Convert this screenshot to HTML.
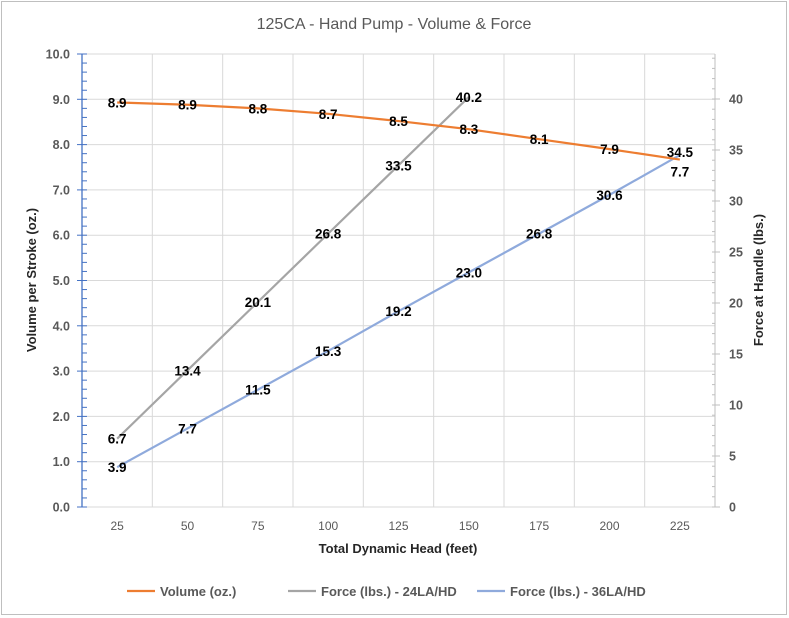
<!DOCTYPE html><html><head><meta charset="utf-8"><style>body{margin:0;background:#fff}svg{display:block;font-family:"Liberation Sans",sans-serif}</style></head><body>
<svg id="s" width="789" height="618" xmlns="http://www.w3.org/2000/svg"></svg>
<script>
const L=82,R=715,T=54,B=507,step=(R-L)/9;
const cx=i=>L+step*(i+0.5), yl=v=>B-v*45.3, yr=v=>B-v*10.2;
let h='<rect x="1.5" y="1.5" width="785" height="613" fill="#fff" stroke="#bfbfbf"/>';
h+='<text x="394" y="29" text-anchor="middle" font-size="16" fill="#595959">125CA - Hand Pump - Volume &amp; Force</text>';
for(let v=0;v<=10;v++){const y=yl(v);h+=`<line x1="${L}" x2="${R}" y1="${y}" y2="${y}" stroke="#d9d9d9"/>`;h+=`<text x="70" y="${y+4.5}" text-anchor="end" font-size="12.5" font-weight="bold" fill="#595959">${v.toFixed(1)}</text>`;}
for(let i=1;i<9;i++){const x=L+step*i;h+=`<line x1="${x}" x2="${x}" y1="${T}" y2="${B}" stroke="#d9d9d9"/>`;}
h+=`<line x1="${L}" x2="${L}" y1="${T}" y2="${B}" stroke="#4472c4" stroke-width="1.3"/>`;
for(let v=0;v<=50;v++){const y=yl(v/5);h+=`<line x1="${v%5?L:L-5}" x2="${L+5}" y1="${y}" y2="${y}" stroke="#4472c4"/>`;}
h+=`<line x1="${R}" x2="${R}" y1="${T}" y2="${B}" stroke="#bfbfbf"/>`;
for(let v=0;v<=44;v++){const y=yr(v);h+=`<line x1="${v%5?R-3:R-3}" x2="${v%5?R:R+5}" y1="${y}" y2="${y}" stroke="#bfbfbf"/>`;if(v%5==0)h+=`<text x="729" y="${y+4.5}" font-size="12.5" font-weight="bold" fill="#595959">${v}</text>`;}
for(let i=0;i<9;i++)h+=`<text x="${cx(i)}" y="530" text-anchor="middle" font-size="12" fill="#595959">${25*(i+1)}</text>`;
h+='<text x="398" y="553" text-anchor="middle" font-size="13" font-weight="bold" fill="#262626">Total Dynamic Head (feet)</text>';
h+='<text transform="translate(36,280) rotate(-90)" text-anchor="middle" font-size="13" font-weight="bold" fill="#262626">Volume per Stroke (oz.)</text>';
h+='<text transform="translate(763,280) rotate(-90)" text-anchor="middle" font-size="13" font-weight="bold" fill="#262626">Force at Handle (lbs.)</text>';
const vol=[8.93,8.88,8.8,8.68,8.52,8.34,8.12,7.9,7.67],volL=['8.9','8.9','8.8','8.7','8.5','8.3','8.1','7.9','7.7'];
const g=[6.7,13.4,20.1,26.8,33.5,40.2],b=[3.9,7.7,11.5,15.3,19.2,23.0,26.8,30.6,34.5];
const pl=(a,f,c)=>`<polyline fill="none" stroke="${c}" stroke-width="2.2" points="${a.map((v,i)=>cx(i)+','+f(v)).join(' ')}"/>`;
h+=pl(g,yr,'#a5a5a5')+pl(b,yr,'#8faadc')+pl(vol,yl,'#ed7d31');
const lab=(x,y,t)=>`<text x="${x}" y="${y+5}" text-anchor="middle" font-size="13.5" font-weight="bold" fill="#000">${t}</text>`;
vol.forEach((v,i)=>{let y=yl(v);if(i==8)y+=12;h+=lab(cx(i),y,volL[i]);});
g.forEach((v,i)=>h+=lab(cx(i),yr(v),v.toFixed(1)));
b.forEach((v,i)=>{let y=yr(v);if(i==8)y-=3;h+=lab(cx(i),y,v.toFixed(1));});
[[127,'#ed7d31','Volume (oz.)'],[288,'#a5a5a5','Force (lbs.) - 24LA/HD'],[477,'#8faadc','Force (lbs.) - 36LA/HD']].forEach(([x,c,t])=>{h+=`<line x1="${x}" x2="${x+28}" y1="591" y2="591" stroke="${c}" stroke-width="2.2"/><text x="${x+33}" y="596" font-size="13" font-weight="bold" fill="#595959">${t}</text>`;});
document.getElementById('s').innerHTML=h;
</script></body></html>
